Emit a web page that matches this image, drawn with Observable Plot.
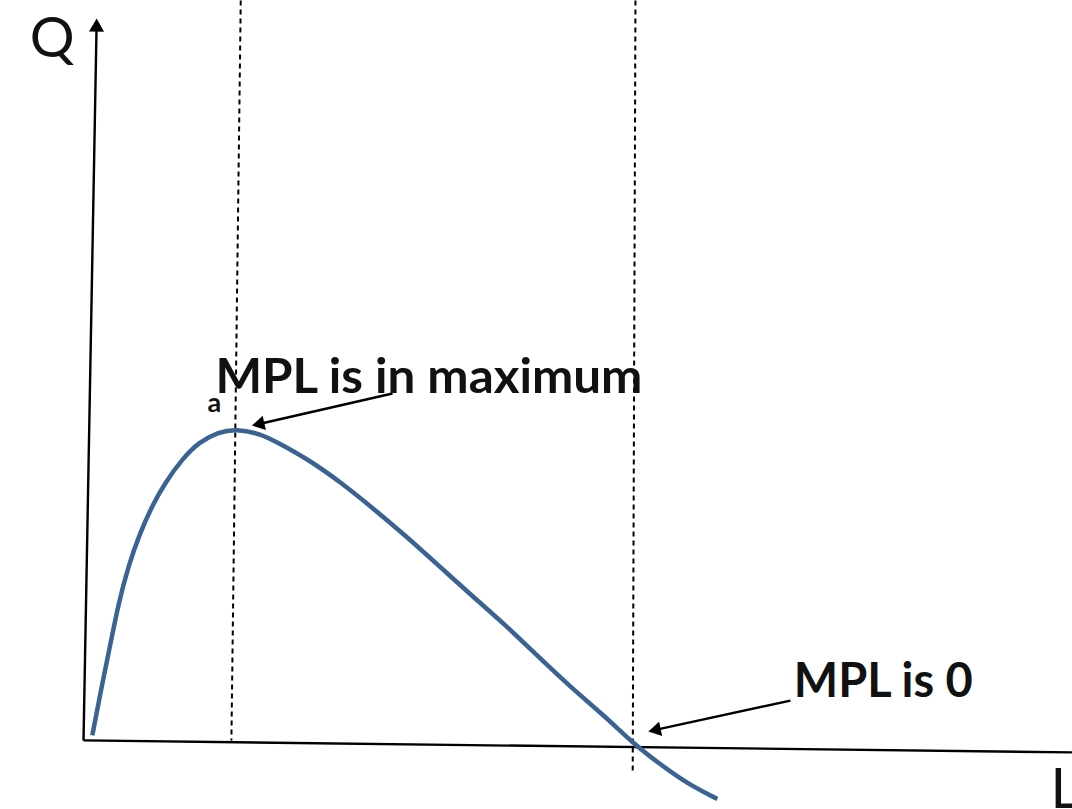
<!DOCTYPE html>
<html>
<head>
<meta charset="utf-8">
<script src="https://cdn.jsdelivr.net/npm/d3@7"></script>
<script src="https://cdn.jsdelivr.net/npm/@observablehq/plot@0.6"></script>
<style>
  html, body { margin: 0; padding: 0; background: #fff; overflow: hidden; }
  svg { display: block; }
</style>
</head>
<body>
<script>
// Total product curve: labour L vs output Q (arbitrary units)
const curveL = [0.17, 0.32, 0.47, 0.65, 0.83, 1.02, 1.26, 1.50, 1.81, 2.11, 2.47, 2.78, 3.23, 3.59, 4.08, 4.69, 5.29, 5.90, 6.50, 7.17, 7.66, 8.26, 8.87, 9.48, 10.02, 10.45, 10.99, 11.54];
const curveQ = [0.18, 1.57, 2.86, 4.46, 5.64, 6.61, 7.57, 8.32, 9.07, 9.61, 9.93, 10.03, 9.88, 9.55, 9.07, 8.32, 7.46, 6.55, 5.59, 4.52, 3.77, 2.75, 1.73, 0.82, -0.09, -0.68, -1.37, -1.86];

// Axes (start and arrow tip)
const axisX1 = [0.01, 0.01];
const axisY1 = [0.02, 0.02];
const axisX2 = [0.25, 18.25];
const axisY2 = [23.22, -0.37];

// Dashed guide lines
const guideX1 = [2.87, 10.05];
const guideY1 = [23.8, 23.8];
const guideX2 = [2.70, 10.00];
const guideY2 = [0.02, -0.95];

// Annotation labels
const labelText = ["MPL is in maximum", "MPL is 0"];
const labelL = [2.41, 12.93];
const labelQ = [11.17, 1.40];
const labelWidth = [427, 179];

// Annotation arrows: tail -> tip
const arrowTailL = [5.63, 12.87];
const arrowTailQ = [11.17, 1.30];
const arrowTipL = [3.08, 10.29];
const arrowTipQ = [10.14, 0.31];

// Point label and axis titles
const pointText = ["a"];
const pointL = [2.39];
const pointQ = [10.56];
const axisTitle = ["Q", "L"];
const axisTitleL = [-0.97, 17.60];
const axisTitleQ = [21.97, -2.14];

const W = 1072, H = 809;
const xDomain = [-1.5, 18], yDomain = [-2.2, 23.8];
const xs = d3.scaleLinear(xDomain, [0, W]);
const ys = d3.scaleLinear(yDomain, [H, 0]);

// Filled triangular heads placed via scales (centroid behind tip, rotated along the shaft)
function heads(x1, y1, x2, y2, r) {
  return x1.map((_, i) => {
    const ax = xs(x1[i]), ay = ys(y1[i]), bx = xs(x2[i]), by = ys(y2[i]);
    const dx = bx - ax, dy = by - ay, n = Math.hypot(dx, dy);
    const ux = dx / n, uy = dy / n;
    const area = Math.PI * r * r;
    const side = Math.sqrt(4 * area / Math.sqrt(3));
    const h = side * Math.sqrt(3) / 2;
    const back = 2 * h / 3;
    const cx = bx - ux * back, cy = by - uy * back;
    const rot = Math.atan2(ux, -uy) * 180 / Math.PI;
    return {x: xs.invert(cx), y: ys.invert(cy), rotate: rot};
  });
}

const curve = curveL.map((l, i) => ({L: l, Q: curveQ[i]}));
const axes = axisX1.map((_, i) => ({x1: axisX1[i], y1: axisY1[i], x2: axisX2[i], y2: axisY2[i]}));
const guides = guideX1.map((_, i) => ({x1: guideX1[i], y1: guideY1[i], x2: guideX2[i], y2: guideY2[i]}));
const labels = labelText.map((t, i) => ({t, L: labelL[i], Q: labelQ[i]}));
const arrows = arrowTailL.map((_, i) => ({x1: arrowTailL[i], y1: arrowTailQ[i], x2: arrowTipL[i], y2: arrowTipQ[i]}));
const points = pointText.map((t, i) => ({t, L: pointL[i], Q: pointQ[i]}));
const titles = axisTitle.map((t, i) => ({t, L: axisTitleL[i], Q: axisTitleQ[i]}));

const axisHeads = heads(axisX1, axisY1, axisX2, axisY2, 5.6);
const arrowHeads = heads(arrowTailL, arrowTailQ, arrowTipL, arrowTipQ, 5.2);
const axesShaft = axes.map((a, i) => ({...a, x2: axisHeads[i].x, y2: axisHeads[i].y}));
const arrowShaft = arrows.map((a, i) => ({...a, x2: arrowHeads[i].x, y2: arrowHeads[i].y}));

const chart = Plot.plot({
  width: W,
  height: H,
  margin: 0,
  x: {domain: xDomain, axis: null},
  y: {domain: yDomain, axis: null},
  style: {background: "#fff", fontFamily: "Lato, sans-serif"},
  marks: [
    Plot.link(guides, {x1: "x1", y1: "y1", x2: "x2", y2: "y2", stroke: "#000", strokeWidth: 2, strokeDasharray: "5,4"}),
    Plot.link(axesShaft, {x1: "x1", y1: "y1", x2: "x2", y2: "y2", stroke: "#000", strokeWidth: 2.4}),
    Plot.dot(axisHeads, {x: "x", y: "y", rotate: "rotate", symbol: "triangle", r: 5.6, fill: "#000", stroke: "none"}),
    Plot.line(curve, {x: "L", y: "Q", stroke: "#3a6393", strokeWidth: 4.5, curve: "basis", strokeLinecap: "butt"}),
    Plot.link(arrowShaft, {x1: "x1", y1: "y1", x2: "x2", y2: "y2", stroke: "#000", strokeWidth: 2.4}),
    Plot.dot(arrowHeads, {x: "x", y: "y", rotate: "rotate", symbol: "triangle", r: 5.4, fill: "#000", stroke: "none"}),
    Plot.text(labels, {x: "L", y: "Q", text: "t", textAnchor: "start", lineAnchor: "bottom", fontSize: 47, fontWeight: "bold", fill: "#111", className: "annot"}),
    Plot.text(points, {x: "L", y: "Q", text: "t", textAnchor: "middle", lineAnchor: "bottom", fontSize: 27, fontWeight: "bold", fill: "#111"}),
    Plot.text(titles, {x: "L", y: "Q", text: "t", textAnchor: "start", lineAnchor: "bottom", fontSize: 56, fontWeight: "normal", fill: "#111"})
  ]
});
// stretch annotation labels to the reference's text widths
d3.select(chart).selectAll("g.annot text").each(function(_, i) {
  this.setAttribute("textLength", labelWidth[i]);
  this.setAttribute("lengthAdjust", "spacingAndGlyphs");
});
document.body.appendChild(chart);
</script>
</body>
</html>
